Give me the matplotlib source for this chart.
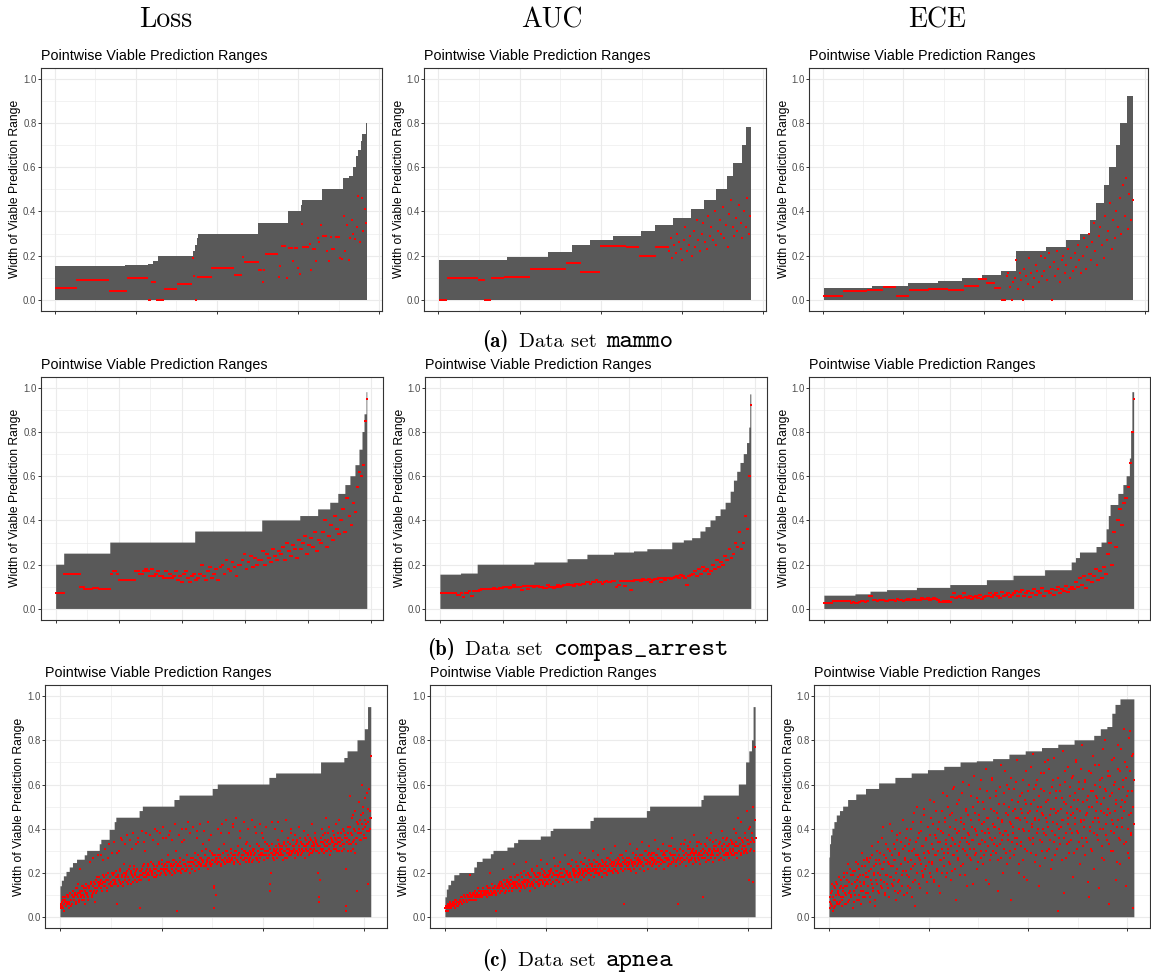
import numpy as np
import matplotlib
matplotlib.use("Agg")
import matplotlib.pyplot as plt
from matplotlib.ticker import MultipleLocator, NullFormatter, FuncFormatter

# ---------------------------------------------------------------- data
N_MAMMO, N_COMPAS, N_APNEA = 192, 1235, 1535
TICK_MAMMO, TICK_COMPAS, TICK_APNEA = 50, 250, 500
COMPAS_STRIDE = 8      # one compas red value per 8 consecutive points
APNEA_STRIDE = 4       # apnea red values: list A at points 1,5,9,...; list B at points 3,7,11,...

# all widths in percent; *_env = upper edge levels, *_env_n = number of points at that level
# ---- mammo (runs of identical values)
loss_mammo_env = [15.5, 15.8, 16.3, 17.5, 20, 22, 25, 28, 30, 35, 40, 43, 45, 50, 55, 56, 60, 65, 68, 72, 75, 80]
loss_mammo_env_n = [43, 14, 3, 3, 22, 1, 1, 1, 37, 18, 8, 1, 12, 13, 4, 2, 2, 1, 2, 1, 2, 1]
loss_mammo_red = [5.6, 8.9, 4.1, 10, 0, 8.3, 0, 5.1, 7.4, 19, 11, 0, 10.5, 14.6, 11.1, 19.5, 17.2, 13.4, 8, 13.4,
                  20.9, 10.5, 15.2, 24.3, 10, 23.6, 17.7, 23.6, 14.5, 11.8,
                  34.5, 24, 24, 24, 24, 25.5, 13.5, 23, 23, 17.5, 28, 26.2, 34, 28.7, 28.7, 28.7, 22, 17.5, 28.5, 23,
                  23, 28.5, 28.5, 28.5, 19, 18.5, 38, 22, 34, 18, 28, 36, 30, 27.5, 33, 47, 26, 46, 31, 41, 35]
loss_mammo_red_n = [13, 20, 11, 13, 2, 3, 5, 8, 9, 1, 1, 1, 9, 14, 5, 1, 9, 2, 1, 1, 8, 1, 1, 3, 1, 3, 1, 2, 1, 1,
                    1, 1, 1, 1, 1, 1, 1, 1, 1, 1, 1, 1, 1, 1, 1, 1, 1, 1, 1, 1,
                    1, 1, 1, 1, 1, 1, 1, 1, 1, 1, 1, 1, 1, 1, 1, 1, 1, 1, 1, 1, 1]

auc_mammo_env = [18.2, 19.5, 21.5, 25, 27, 29, 31, 34, 37, 41, 45, 50, 56, 62, 70, 78]
auc_mammo_env_n = [42, 25, 15, 11, 14, 17, 9, 11, 11, 8, 7, 7, 4, 5, 3, 3]
auc_mammo_red = [0, 10, 9, 0, 10, 10.5, 14, 16.5, 12.5, 24.5, 24, 20, 24,
                 22, 28, 19, 25, 21, 30, 26, 23, 18, 27, 33, 22, 25, 29, 20, 31, 24, 36, 27, 22,
                 30, 35, 26, 23, 38, 29, 33, 27, 40, 25, 31, 36, 30, 42, 28, 34, 24, 39, 45, 33,
                 29, 37, 31, 43, 35, 28, 40, 33, 46, 30, 38]
auc_mammo_red_n = [5, 19, 4, 4, 8, 16, 22, 9, 12, 16, 8, 10, 8,
                   1, 1, 1, 1, 1, 1, 1, 1, 1, 1, 1, 1, 1, 1, 1, 1, 1, 1, 1, 1,
                   1, 1, 1, 1, 1, 1, 1, 1, 1, 1, 1, 1, 1, 1, 1, 1, 1, 1, 1, 1,
                   1, 1, 1, 1, 1, 1, 1, 1, 1, 1, 1]

ece_mammo_env = [5.5, 6.5, 7.5, 8.5, 10, 11.5, 13, 22, 24, 27, 30, 36, 44, 52, 60, 70, 80, 92]
ece_mammo_env_n = [30, 22, 19, 15, 12, 12, 9, 19, 12, 9, 6, 4, 5, 3, 4, 3, 4, 4]
ece_mammo_red = [2, 4, 4.5, 6, 2, 4.5, 5, 4.5, 6.5, 9.5, 7.5, 5.5, 0,
                 11, 12, 6, 0, 8, 10, 18, 5, 12, 9, 0, 14, 11, 7, 19, 12, 6, 10, 16, 13, 8, 20, 11,
                 13, 19, 9, 21, 15, 0, 17, 11, 22, 14, 8, 18, 20, 12, 16, 23, 10, 19, 13, 21, 15, 25, 18, 12,
                 20, 28, 14, 24, 30, 18, 26, 35, 22, 16, 29, 33, 25, 19, 38, 27, 31, 44, 23, 36, 28, 40, 33, 46,
                 30, 52, 38, 55, 32, 48, 36, 45]
ece_mammo_red_n = [12, 15, 10, 8, 8, 12, 12, 10, 9, 5, 5, 4, 3,
                   1, 1, 1, 1, 1, 1, 1, 1, 1, 1, 1, 1, 1, 1, 1, 1, 1, 1, 1, 1, 1, 1, 1,
                   1, 1, 1, 1, 1, 1, 1, 1, 1, 1, 1, 1, 1, 1, 1, 1, 1, 1, 1, 1, 1, 1, 1, 1,
                   1, 1, 1, 1, 1, 1, 1, 1, 1, 1, 1, 1, 1, 1, 1, 1, 1, 1, 1, 1, 1, 1, 1, 1,
                   1, 1, 1, 1, 1, 1, 1, 1]

# ---- compas_arrest
loss_compas_env = [20, 25, 30, 35, 40, 42, 45, 48, 52, 56, 60, 65, 72, 80, 88, 98]
loss_compas_env_n = [32, 183, 337, 266, 151, 71, 48, 32, 28, 20, 20, 16, 12, 8, 8, 3]
loss_compas_red = [7, 7, 7, 7, 16, 16, 16, 16, 16, 16, 16, 16, 10, 10,
                   9, 9, 9, 9, 9.5, 9.5, 9.5, 9, 9, 9, 9, 9, 9, 16, 17, 17, 16,
                   13, 13, 13, 13, 13, 13, 13, 13, 17, 17, 16, 16, 17, 18, 17, 15, 18, 15, 16, 17,
                   15, 15, 14, 17, 14, 16, 14, 15, 17, 13, 15, 12, 16, 17, 14, 12, 15, 16, 13, 14,
                   16, 20, 15, 13, 17, 19, 14, 16, 18, 13, 19, 20, 16, 22, 18, 17, 21, 19, 15, 20,
                   20, 22, 25, 18, 21, 24, 19, 23, 20, 22, 22, 26, 20, 25, 23, 21, 27, 24, 22, 26,
                   25, 28, 22, 30, 26, 24, 29, 27, 23, 31, 27, 30, 33, 25, 29, 32, 28, 35, 26, 31,
                   30, 35, 40, 28, 33, 38, 31, 42, 36, 34, 40, 45, 35, 50, 42, 38, 48, 44,
                   55, 62, 60, 65, 85, 95]

auc_compas_env = [15.5, 16, 20, 21, 22.5, 24.5, 25.5, 26, 27, 30, 31, 32, 35, 37, 40, 42, 45, 48, 53, 58, 62, 66,
                  70, 75, 82, 97]
auc_compas_env_n = [82, 66, 225, 132, 79, 106, 79, 53, 99, 46, 33, 33, 20, 20, 20, 20, 20, 20, 13, 13, 13, 13,
                    13, 9, 4, 4]
auc_compas_red = [7, 7, 7, 7, 7, 7, 7, 7, 6.5, 6.5, 7, 5.5, 7, 7, 8, 6, 8, 8, 8, 8.5,
                  9, 9, 9, 9, 9, 9, 9.5, 9, 9, 9.5, 9.5, 10, 10, 10, 9.5, 10, 11, 10, 10, 10,
                  8.5, 10.5, 10.5, 9, 10.5, 10.5, 10, 10.5, 10.5, 10, 10, 9.5, 9.5, 11, 10, 10, 9.5, 10, 11, 10,
                  10.5, 11, 11, 11.5, 11, 11, 10.5, 11.5, 11.5, 11,
                  11.5, 11.5, 12, 12, 11.5, 12, 12, 13, 12, 12, 11.5, 12, 12.5, 12, 12,
                  12.5, 12.5, 10, 11, 12.5, 12.5, 10.5, 12.5, 12.5, 8.5, 12.5, 13,
                  13, 13, 12.5, 13.5, 13, 13, 13.5, 12, 13, 13.5, 13.5, 14, 12, 14, 13, 14, 14, 13.5,
                  14, 14.5, 15, 14, 15.5, 15, 14, 11, 15, 15.5, 16, 17, 15, 18, 16, 19, 17, 18, 16,
                  17, 20, 18, 22, 19, 21, 20, 24, 22, 27, 23, 25, 30, 28, 35, 27, 30, 42, 36, 60, 92]

ece_compas_env = [6, 6.6, 7.8, 8.5, 9.5, 10.8, 13, 15, 17.5, 21, 23, 25.5, 28, 30, 36, 42, 47, 52, 56, 60, 68, 80, 98]
ece_compas_env_n = [124, 60, 66, 119, 133, 146, 106, 126, 106, 17, 16, 66, 20, 20, 9, 7, 31, 20, 13, 13, 5, 5, 7]
ece_compas_red = [2.5, 2.5, 2.5, 2.5, 3.8, 3.8, 3.8, 3.8, 3.8, 3.8, 3.8, 3.8, 3.8,
                  2.5, 3, 2.5, 2.5, 3, 3.5, 3.5, 3, 3.5, 6, 6,
                  4, 4, 3.5, 4, 4, 4, 3.5, 3.5, 4, 4, 4, 3.5, 4.5, 4, 4, 3.5, 4, 4.5, 4, 4, 4.5, 4, 4,
                  4, 5, 4.5, 4.5, 5, 4, 4.5, 5, 4.5, 4, 3, 3, 3.5, 3, 3.5, 3,
                  5.5, 7, 5, 5.5, 6, 5, 7, 5.5, 5, 6, 4.5, 5.5, 6, 5, 6.5, 4.5, 5.5, 6,
                  6, 7, 5.5, 6.5, 7, 6, 5, 7.5, 6, 6.5, 7, 5.5, 6.5,
                  7, 8, 6, 7.5, 8.5, 6, 7, 8, 5.5, 7, 9, 6.5, 8, 7, 9.5, 6, 8,
                  8, 7, 9, 6.5, 8.5, 10, 7, 9, 8, 10.5, 7.5, 9, 10,
                  9, 12, 10, 14, 11, 15, 9.5, 13, 16, 12, 15, 18, 13, 17, 14, 19, 16,
                  25, 30, 20, 35, 28, 40, 45, 38, 48, 50, 55, 66, 80, 95]

# ---- apnea
loss_apnea_env = [14, 16.5, 18.5, 20.5, 22.5, 24.5, 26, 28, 30, 33, 35, 39.5, 43, 45, 48, 50, 53, 55, 58, 60, 63,
                  65, 70, 72, 75, 80, 85, 95]
loss_apnea_env_n = [7, 10, 13, 16, 16, 20, 38, 12, 62, 8, 41, 25, 8, 115, 16, 156, 25, 164, 25, 255, 33, 222, 115,
                    16, 49, 36, 16, 16]
loss_apnea_red_a = [4, 6, 5, 8, 3, 7, 9, 5, 6, 10, 7, 4, 11, 8, 6, 9,
                    12, 8, 10, 6, 13, 9, 11, 7, 22, 10, 12, 8, 14, 9, 6, 11,
                    13, 10, 8, 14, 25, 12, 15, 9, 11, 16, 13, 7, 17, 12, 28, 14,
                    18, 15, 28, 12, 16, 19, 14, 31, 17, 13, 20, 27, 15, 18, 16, 29,
                    14, 19, 34, 17, 21, 15, 6, 18, 30, 16, 22, 36, 19, 14, 24, 33,
                    18, 20, 37, 15, 22, 17, 35, 21, 19, 38, 16, 23, 20, 33, 18, 22,
                    36, 17, 4, 21, 39, 19, 23, 34, 20, 18, 38, 22, 24, 19, 37, 21,
                    25, 20, 35, 18, 23, 40, 22, 19, 33, 24, 21, 38, 20, 26, 22, 41,
                    23, 20, 36, 25, 22, 28, 21, 39, 24, 19, 35, 23, 26, 42, 22, 25,
                    3, 24, 37, 21, 27, 23, 40, 22, 26, 35, 24, 21, 28, 43, 25, 23,
                    38, 27, 22, 25, 41, 24, 29, 26, 36, 23, 28, 25, 42, 27, 24, 30,
                    26, 39, 28, 23, 31, 25, 43, 27, 30, 24, 37, 29, 26, 14, 4, 28,
                    10, 27, 40, 25, 31, 28, 24, 42, 29, 26, 33, 27, 44, 25, 30, 28,
                    38, 26, 31, 29, 27, 41, 25, 30, 28, 45, 26, 32, 29, 24, 39, 27,
                    31, 28, 43, 26, 30, 33, 27, 40, 29, 25, 32, 28, 44, 30, 26, 31,
                    29, 38, 27, 33, 30, 25, 42, 28, 31, 29, 36, 26, 34, 28, 41, 30,
                    27, 32, 15, 12, 29, 43, 28, 31, 26, 40, 30, 27, 35, 29, 33, 31,
                    28, 39, 32, 26, 34, 30, 44, 27, 31, 36, 29, 33, 28, 38, 30, 35,
                    32, 27, 37, 30, 34, 29, 41, 31, 36, 28, 33, 30, 39, 32, 27, 35,
                    30, 37, 33, 28, 36, 31, 42, 29, 34, 32, 38, 30, 35, 33, 20, 7,
                    17, 36, 31, 40, 34, 29, 38, 32, 45, 30, 35, 33, 41, 28, 36, 34,
                    39, 31, 37, 33, 42, 30, 36, 34, 44, 32, 38, 35, 30, 40, 33, 37,
                    22, 5, 36, 41, 33, 55, 30, 38, 45, 34, 40, 29, 48, 36, 12, 42,
                    52, 38, 44, 35, 60, 40, 47, 36, 54, 42, 39, 49, 15, 58, 45, 73]
loss_apnea_red_b = [5, 7, 4, 9, 6, 8, 5, 10, 7, 9, 6, 11, 8, 5, 10, 12,
                    9, 11, 7, 13, 10, 15, 8, 12, 11, 9, 14, 10, 13, 8, 12, 15,
                    11, 14, 9, 13, 12, 16, 10, 27, 14, 12, 15, 11, 18, 13, 16, 15,
                    16, 13, 17, 15, 26, 18, 14, 16, 19, 12, 17, 33, 15, 18, 14, 20,
                    17, 15, 20, 16, 18, 29, 14, 19, 17, 21, 15, 18, 35, 16, 20, 17,
                    19, 16, 21, 18, 17, 23, 15, 20, 31, 18, 22, 17, 19, 21, 16, 34,
                    18, 21, 19, 17, 22, 20, 24, 18, 30, 21, 19, 23, 20, 17, 22, 25,
                    21, 19, 24, 22, 20, 18, 23, 39, 21, 25, 19, 22, 20, 24, 36, 21,
                    22, 24, 19, 23, 21, 25, 37, 20, 23, 22, 26, 21, 24, 20, 30, 23,
                    24, 21, 23, 25, 20, 34, 22, 26, 24, 21, 23, 40, 22, 25, 23, 20,
                    23, 25, 22, 27, 24, 21, 26, 23, 39, 25, 22, 24, 27, 23, 26, 33,
                    25, 23, 28, 24, 26, 22, 27, 35, 25, 23, 26, 24, 28, 13, 25, 27,
                    26, 24, 28, 25, 27, 23, 38, 26, 29, 25, 27, 24, 30, 26, 28, 25,
                    27, 25, 29, 26, 42, 28, 24, 27, 30, 26, 28, 25, 29, 36, 27, 31,
                    28, 26, 30, 27, 25, 29, 34, 28, 26, 30, 27, 29, 25, 31, 28, 41,
                    29, 27, 26, 30, 28, 32, 27, 29, 38, 28, 31, 26, 30, 28, 33, 27,
                    30, 28, 31, 20, 29, 33, 27, 30, 28, 32, 29, 31, 43, 28, 30, 32,
                    29, 31, 28, 33, 30, 27, 32, 29, 34, 31, 28, 30, 40, 29, 32, 30,
                    31, 29, 33, 30, 35, 28, 32, 30, 34, 31, 29, 33, 30, 36, 32, 31,
                    33, 30, 34, 31, 29, 35, 32, 30, 33, 31, 36, 34, 30, 32, 9, 29,
                    32, 34, 30, 37, 31, 33, 35, 30, 34, 32, 38, 31, 33, 36, 30, 35,
                    34, 32, 36, 31, 35, 33, 38, 30, 34, 36, 32, 35, 33, 39, 31, 36,
                    3, 34, 30, 38, 35, 41, 33, 37, 31, 46, 35, 39, 33, 43, 36, 38,
                    40, 35, 46, 38, 42, 50, 37, 44, 41, 36, 56, 43, 39, 48, 40, 45]

auc_apnea_env = [9, 12.5, 14.5, 16.5, 19, 20, 22.5, 25, 26.5, 28.5, 30, 31.5, 33.5, 35, 36.5, 39, 40, 43.5, 45,
                 48, 50, 53, 55, 60, 70, 75, 80, 95]
auc_apnea_env_n = [7, 8, 13, 16, 25, 74, 13, 28, 41, 13, 69, 33, 20, 112, 49, 13, 184, 16, 263, 16, 254, 11, 174,
                   36, 16, 13, 8, 10]
auc_apnea_red_a = [4, 3, 5, 4, 6, 5, 4, 6, 5, 7, 5, 6, 8, 6, 7, 5,
                   7, 6, 8, 7, 9, 6, 8, 7, 9, 8, 10, 7, 9, 8, 19, 8,
                   10, 9, 8, 11, 9, 10, 8, 11, 10, 9, 12, 10, 11, 9, 12, 10,
                   11, 10, 12, 9, 11, 13, 10, 20, 12, 11, 10, 13, 11, 12, 10, 3,
                   13, 12, 15, 11, 14, 16, 12, 22, 13, 15, 11, 14, 17, 13, 12, 16,
                   14, 18, 12, 15, 13, 24, 16, 14, 19, 13, 15, 17, 12, 20, 14, 16,
                   15, 21, 13, 17, 25, 14, 16, 19, 12, 18, 15, 22, 14, 17, 20, 13,
                   16, 23, 15, 18, 14, 20, 26, 17, 15, 19, 21, 14, 18, 16, 24, 15,
                   17, 20, 15, 22, 18, 16, 27, 19, 14, 21, 17, 23, 16, 19, 25, 18,
                   20, 15, 22, 18, 28, 17, 21, 19, 16, 24, 20, 18, 26, 17, 22, 19,
                   18, 25, 21, 16, 23, 19, 29, 20, 17, 22, 24, 18, 21, 27, 19, 23,
                   20, 17, 26, 22, 19, 24, 30, 21, 18, 23, 25, 20, 22, 28, 19, 24,
                   21, 26, 18, 23, 31, 22, 20, 25, 19, 27, 22, 24, 21, 29, 23, 20,
                   25, 22, 32, 21, 24, 27, 20, 26, 23, 22, 28, 25, 21, 6, 24, 30,
                   23, 27, 22, 25, 33, 21, 26, 24, 29, 22, 27, 25, 20, 31, 24, 26,
                   22, 28, 25, 34, 23, 27, 21, 30, 26, 24, 28, 22, 32, 25, 27, 23,
                   29, 24, 26, 35, 22, 28, 25, 31, 23, 27, 30, 24, 26, 33, 22, 28,
                   25, 30, 27, 23, 32, 26, 29, 24, 36, 27, 25, 31, 28, 23, 30, 26,
                   6, 28, 24, 33, 27, 25, 30, 26, 35, 23, 29, 27, 31, 25, 28, 34,
                   26, 30, 24, 29, 37, 27, 25, 32, 28, 26, 34, 24, 30, 28, 9, 31,
                   27, 33, 25, 29, 36, 28, 26, 31, 27, 38, 29, 25, 32, 30, 27, 35,
                   28, 31, 26, 34, 29, 27, 39, 30, 33, 26, 31, 28, 36, 29, 32, 27,
                   30, 35, 28, 33, 31, 40, 29, 34, 27, 32, 45, 30, 36, 28, 43, 31,
                   34, 29, 38, 32, 30, 48, 35, 33, 17, 41, 31, 36, 16, 50, 34, 77]
auc_apnea_red_b = [5, 4, 6, 3, 5, 7, 4, 6, 5, 5, 7, 4, 6, 8, 5, 7,
                   6, 8, 7, 9, 6, 8, 10, 7, 9, 8, 7, 10, 9, 8, 11, 9,
                   9, 11, 10, 8, 12, 10, 9, 11, 13, 10, 9, 12, 11, 10, 13, 11,
                   12, 10, 11, 14, 12, 11, 13, 10, 12, 15, 11, 13, 12, 14, 11, 13,
                   14, 12, 13, 16, 12, 15, 14, 13, 17, 15, 12, 14, 16, 13, 15, 18,
                   15, 17, 13, 16, 14, 18, 15, 13, 16, 19, 14, 17, 15, 13, 18, 16,
                   17, 14, 16, 19, 15, 17, 20, 16, 14, 18, 16, 21, 15, 17, 19, 16,
                   18, 16, 20, 17, 15, 19, 17, 22, 16, 18, 20, 17, 15, 19, 18, 21,
                   19, 17, 21, 18, 16, 20, 19, 23, 17, 19, 21, 18, 16, 20, 22, 18,
                   20, 18, 22, 19, 17, 21, 20, 24, 18, 20, 19, 23, 17, 21, 20, 22,
                   21, 19, 23, 20, 18, 22, 21, 25, 19, 21, 20, 24, 22, 19, 23, 21,
                   22, 20, 24, 21, 19, 23, 22, 26, 20, 22, 21, 25, 23, 20, 24, 22,
                   23, 21, 25, 22, 20, 24, 23, 27, 21, 23, 22, 26, 24, 21, 25, 23,
                   24, 22, 26, 23, 21, 25, 24, 28, 22, 24, 23, 27, 25, 22, 26, 24,
                   25, 23, 27, 24, 22, 26, 25, 29, 23, 25, 24, 28, 26, 23, 27, 25,
                   26, 24, 28, 25, 23, 27, 26, 30, 24, 26, 25, 29, 27, 24, 28, 26,
                   27, 25, 29, 26, 24, 28, 27, 31, 25, 27, 26, 30, 28, 25, 29, 27,
                   27, 26, 30, 27, 24, 29, 28, 32, 25, 28, 26, 31, 28, 25, 30, 27,
                   28, 26, 31, 27, 25, 30, 28, 33, 26, 29, 27, 32, 28, 26, 31, 29,
                   29, 27, 31, 28, 26, 30, 29, 34, 27, 29, 28, 33, 30, 27, 31, 29,
                   30, 27, 32, 29, 26, 31, 30, 35, 28, 30, 28, 34, 31, 27, 32, 30,
                   30, 28, 33, 29, 27, 32, 31, 36, 28, 31, 29, 35, 32, 28, 33, 31,
                   31, 29, 34, 30, 28, 33, 32, 38, 29, 32, 30, 36, 33, 29, 35, 32,
                   32, 30, 36, 31, 29, 35, 33, 40, 30, 34, 31, 38, 35, 30, 44, 36]

ece_apnea_env = [27, 33, 37, 40, 43, 46, 48, 50, 53, 55.5, 58, 60.5, 63, 65, 66.5, 68, 70, 70.5, 71.5, 73.5, 75,
                 76.5, 78, 80, 82, 85, 86, 92, 96, 98.5]
ece_apnea_env_n = [3, 5, 7, 10, 12, 16, 16, 25, 41, 49, 66, 82, 82, 82, 82, 82, 82, 82, 82, 82, 82, 82, 82, 99, 33,
                   33, 25, 16, 25, 70]
ece_apnea_red_a = [4, 9, 6, 12, 3, 8, 14, 5, 10, 7, 15, 11, 6, 13, 9, 17,
                   8, 12, 18, 6, 14, 10, 20, 7, 16, 11, 22, 9, 15, 4, 19, 12,
                   21, 13, 8, 17, 24, 10, 19, 14, 6, 23, 12, 26, 16, 9, 20, 27,
                   11, 18, 25, 7, 22, 15, 28, 13, 20, 5, 24, 17, 30, 12, 26, 19,
                   29, 14, 22, 41, 16, 25, 10, 27, 19, 31, 13, 24, 42, 18, 28, 15,
                   23, 33, 12, 26, 20, 35, 11, 29, 17, 38, 24, 14, 31, 21, 10, 27,
                   36, 19, 11, 25, 33, 13, 40, 22, 30, 16, 47, 24, 5, 34, 20, 28,
                   38, 15, 26, 43, 21, 32, 18, 49, 27, 35, 23, 16, 41, 29, 37, 20,
                   45, 25, 31, 17, 52, 28, 36, 22, 40, 30, 14, 34, 26, 48, 20, 38,
                   27, 43, 33, 18, 55, 29, 37, 24, 46, 32, 21, 58, 35, 28, 40, 8,
                   30, 51, 26, 39, 34, 45, 23, 56, 31, 42, 36, 19, 48, 28, 38, 33,
                   60, 27, 44, 35, 15, 50, 31, 40, 29, 54, 37, 25, 46, 33, 62, 30,
                   39, 52, 28, 43, 34, 17, 57, 32, 45, 38, 26, 49, 35, 63, 30, 41,
                   36, 55, 29, 47, 12, 40, 33, 59, 27, 44, 37, 51, 31, 66, 39, 24,
                   46, 35, 58, 30, 42, 8, 53, 38, 28, 49, 36, 61, 33, 45, 40, 20,
                   55, 34, 47, 26, 62, 39, 31, 51, 43, 17, 57, 36, 48, 29, 68, 41,
                   33, 53, 45, 25, 60, 38, 50, 14, 44, 35, 58, 30, 47, 40, 65, 27,
                   52, 37, 43, 71, 31, 56, 46, 22, 39, 62, 34, 49, 28, 57, 42, 3,
                   48, 36, 60, 41, 26, 54, 44, 11, 66, 38, 51, 33, 45, 29, 59, 40,
                   35, 63, 47, 18, 53, 42, 70, 31, 49, 38, 58, 24, 44, 67, 36, 52,
                   41, 28, 61, 46, 34, 55, 9, 50, 39, 65, 30, 57, 43, 22, 69, 48,
                   37, 54, 45, 13, 62, 40, 51, 32, 76, 47, 26, 58, 42, 35, 64, 49,
                   6, 55, 39, 71, 44, 30, 60, 48, 17, 53, 41, 78, 36, 66, 24, 50,
                   45, 62, 33, 85, 52, 14, 68, 40, 57, 27, 84, 47, 37, 73, 4, 42]
ece_apnea_red_b = [7, 11, 5, 15, 9, 4, 13, 8, 16, 6, 12, 10, 18, 7, 14, 5,
                   13, 9, 20, 11, 6, 17, 14, 24, 8, 12, 19, 10, 15, 21, 7, 16,
                   10, 25, 14, 18, 8, 22, 16, 12, 29, 19, 9, 15, 23, 11, 18, 26,
                   14, 21, 9, 27, 17, 32, 12, 23, 19, 8, 26, 15, 34, 20, 11, 24,
                   17, 36, 13, 22, 28, 11, 19, 33, 15, 25, 9, 30, 18, 23, 39, 14,
                   26, 17, 31, 8, 22, 37, 16, 28, 12, 34, 24, 19, 44, 10, 26, 32,
                   21, 40, 14, 30, 18, 35, 26, 9, 43, 23, 31, 17, 28, 50, 20, 36,
                   27, 13, 39, 24, 32, 19, 46, 29, 22, 36, 11, 41, 30, 25, 53, 18,
                   33, 24, 42, 16, 37, 28, 48, 21, 34, 43, 26, 11, 39, 31, 56, 23,
                   29, 45, 35, 20, 50, 31, 25, 41, 17, 36, 47, 28, 59, 33, 22, 44,
                   38, 27, 53, 32, 19, 43, 36, 61, 24, 40, 30, 49, 34, 14, 46, 37,
                   31, 55, 26, 41, 35, 64, 28, 47, 39, 22, 52, 33, 44, 58, 27, 42,
                   35, 24, 49, 38, 67, 30, 45, 40, 15, 54, 36, 28, 62, 42, 33, 48,
                   41, 57, 32, 45, 26, 51, 38, 69, 35, 43, 20, 56, 39, 47, 29, 60,
                   37, 50, 43, 27, 63, 34, 48, 41, 58, 31, 45, 71, 36, 52, 24, 44,
                   49, 32, 56, 40, 18, 53, 45, 66, 30, 47, 39, 60, 35, 51, 42, 74,
                   36, 58, 44, 28, 62, 48, 40, 55, 23, 50, 65, 34, 46, 57, 38, 70,
                   45, 30, 53, 41, 67, 35, 49, 26, 59, 43, 72, 37, 54, 47, 31, 63,
                   40, 57, 33, 49, 44, 75, 36, 52, 61, 27, 47, 42, 68, 34, 55, 46,
                   50, 38, 64, 29, 56, 45, 71, 39, 53, 34, 61, 48, 43, 78, 32, 58,
                   44, 62, 36, 53, 47, 16, 66, 41, 57, 31, 50, 73, 38, 60, 45, 55,
                   52, 35, 69, 43, 59, 48, 27, 63, 40, 54, 80, 37, 57, 46, 66, 33,
                   47, 64, 30, 56, 42, 72, 38, 61, 51, 25, 67, 44, 58, 35, 76, 53,
                   41, 59, 48, 70, 34, 63, 55, 29, 81, 46, 66, 38, 57, 74, 50, 62]

column_titles = ["Loss", "AUC", "ECE"]
panel_title = "Pointwise Viable Prediction Ranges"
y_label = "Width of Viable Prediction Range"
y_ticks = [0.0, 0.2, 0.4, 0.6, 0.8, 1.0]
captions = [("(a)", "mammo"), ("(b)", "compas_arrest"), ("(c)", "apnea")]

# ---------------------------------------------------------------- drawing
W, H = 1151, 977
GREY = "#595959"
GRID = "#EBEBEB"
BORDER = "#333333"
TICKLAB = "#4D4D4D"
SANS = ["Liberation Sans", "DejaVu Sans"]

fig = plt.figure(figsize=(W / 100, H / 100), dpi=100)
fig.patch.set_facecolor("white")


def fy(y):
    return 1 - y / H


def make_panel(rect, n, tick, env, env_n, red_x, red_y, msize=2.6):
    l, t, r, b = rect
    ax = fig.add_axes([l / W, 1 - b / H, (r - l) / W, (b - t) / H])
    upper = np.repeat(np.asarray(env, float) / 100, env_n)
    ax.stairs(upper, np.arange(0.5, len(upper) + 1.5), baseline=0, fill=True,
              color=GREY, lw=0, zorder=2)
    ax.scatter(red_x, np.asarray(red_y, float) / 100, s=msize, marker="s",
               c="#FF0000", linewidths=0, zorder=3)
    pad = 0.05 * (n - 1)
    ax.set_xlim(1 - pad, n + pad)
    ax.set_ylim(-0.05, 1.05)
    ax.xaxis.set_major_locator(MultipleLocator(tick))
    ax.xaxis.set_minor_locator(MultipleLocator(tick / 2))
    ax.set_yticks(y_ticks)
    ax.yaxis.set_minor_locator(MultipleLocator(0.1))
    ax.xaxis.set_major_formatter(NullFormatter())
    ax.yaxis.set_major_formatter(FuncFormatter(lambda v, p: f"{v:.1f}"))
    ax.grid(which="major", color=GRID, lw=0.8)
    ax.grid(which="minor", color=GRID, lw=0.45)
    ax.set_axisbelow(True)
    ax.tick_params(which="major", length=2.3, width=0.7, color=BORDER,
                   labelsize=6.9, labelcolor=TICKLAB, pad=0.8)
    ax.tick_params(which="minor", length=0)
    for lab in ax.get_yticklabels():
        lab.set_family(SANS)
    for s in ax.spines.values():
        s.set_color(BORDER)
        s.set_linewidth(0.8)
    fig.text(l / W, fy(t - 8), panel_title, family=SANS, fontsize=10.3,
             ha="left", va="baseline")
    fig.text((l - 25.5) / W, fy((t + b) / 2), y_label, family=SANS, fontsize=8.7,
             rotation=90, ha="center", va="center")
    return ax


def runs_panel(rect, n, tick, env, env_n, red, red_n):
    ry = np.repeat(np.asarray(red, float), red_n)
    make_panel(rect, n, tick, env, env_n, np.arange(1, len(ry) + 1), ry)


def stride_block_panel(rect, n, tick, env, env_n, red, stride):
    ry = np.repeat(np.asarray(red, float), stride)[:n]
    make_panel(rect, n, tick, env, env_n, np.arange(1, len(ry) + 1), ry)


def stride_point_panel(rect, n, tick, env, env_n, red_a, red_b, stride):
    rx = np.concatenate([1 + stride * np.arange(len(red_a)), 3 + stride * np.arange(len(red_b))])
    ry = np.concatenate([np.asarray(red_a, float), np.asarray(red_b, float)])
    make_panel(rect, n, tick, env, env_n, rx, ry, msize=2.4)


# panel rectangles in pixels (left, top, right, bottom)
row1 = [(40.7, 67.7, 382, 311), (424.3, 67.7, 766, 311), (809, 67.7, 1148, 311)]
row2 = [(40.7, 376.7, 382.7, 620), (425, 376.7, 766.7, 620), (809, 376.7, 1149.5, 620)]
row3 = [(45, 685, 386.7, 928.3), (430, 685, 771, 928.3), (814.3, 685, 1149.5, 928.3)]

runs_panel(row1[0], N_MAMMO, TICK_MAMMO, loss_mammo_env, loss_mammo_env_n, loss_mammo_red, loss_mammo_red_n)
runs_panel(row1[1], N_MAMMO, TICK_MAMMO, auc_mammo_env, auc_mammo_env_n, auc_mammo_red, auc_mammo_red_n)
runs_panel(row1[2], N_MAMMO, TICK_MAMMO, ece_mammo_env, ece_mammo_env_n, ece_mammo_red, ece_mammo_red_n)

stride_block_panel(row2[0], N_COMPAS, TICK_COMPAS, loss_compas_env, loss_compas_env_n, loss_compas_red, COMPAS_STRIDE)
stride_block_panel(row2[1], N_COMPAS, TICK_COMPAS, auc_compas_env, auc_compas_env_n, auc_compas_red, COMPAS_STRIDE)
stride_block_panel(row2[2], N_COMPAS, TICK_COMPAS, ece_compas_env, ece_compas_env_n, ece_compas_red, COMPAS_STRIDE)

stride_point_panel(row3[0], N_APNEA, TICK_APNEA, loss_apnea_env, loss_apnea_env_n,
                   loss_apnea_red_a, loss_apnea_red_b, APNEA_STRIDE)
stride_point_panel(row3[1], N_APNEA, TICK_APNEA, auc_apnea_env, auc_apnea_env_n,
                   auc_apnea_red_a, auc_apnea_red_b, APNEA_STRIDE)
stride_point_panel(row3[2], N_APNEA, TICK_APNEA, ece_apnea_env, ece_apnea_env_n,
                   ece_apnea_red_a, ece_apnea_red_b, APNEA_STRIDE)

# column headers
for name, cx in zip(column_titles, [165.7, 552, 937]):
    fig.text(cx / W, fy(27.3), name, family="cmr10", fontsize=20, ha="center", va="baseline")

# sub-captions
renderer = fig.canvas.get_renderer()
for (lab, ds), yb in zip(captions, [347.3, 655, 966]):
    pieces = [fig.text(0, fy(yb), lab, family="cmb10", fontsize=15, va="baseline"),
              fig.text(0, fy(yb), "Data set", family="cmr10", fontsize=15, va="baseline"),
              fig.text(0, fy(yb), ds, family="cmtt10", fontsize=18.5, va="baseline")]
    widths = [p.get_window_extent(renderer).width for p in pieces]
    gaps = [10, 10, 0]
    x = 578 - (sum(widths) + sum(gaps)) / 2
    for p, w, g in zip(pieces, widths, gaps):
        p.set_x(x / W)
        x += w + g

fig.savefig("out.png", dpi=100, facecolor="white")
